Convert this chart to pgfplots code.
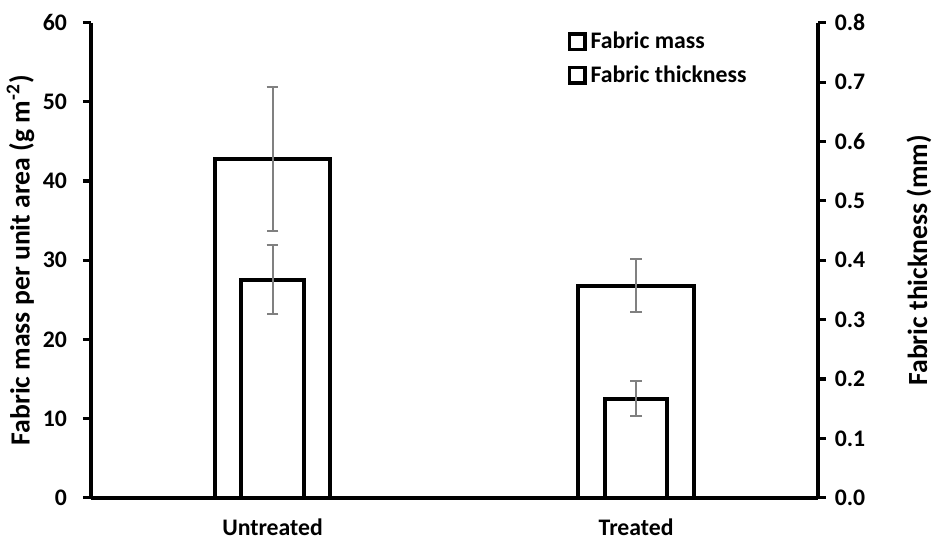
\documentclass[border=0pt]{standalone}
\usepackage{fontspec}
\setmainfont{Carlito}
\usepackage{pgfplots}
\pgfplotsset{compat=1.18}

% mean values and standard deviations
\pgfplotstableread{
x  mass  masserr
0  42.8  9.1
1  26.8  3.3
}\masstable
\pgfplotstableread{
x  thick  thickerr
0  0.367  0.058
1  0.167  0.029
}\thicktable

\pgfplotsset{
  common/.style={
    scale only axis,
    width=367.5pt, height=240pt,
    xmin=-0.5, xmax=1.5,
    ymin=0,
    font=\bfseries\fontsize{12}{14}\selectfont,
    /pgf/number format/assume math mode=true,
    ticklabel style={font=\bfseries\fontsize{12}{14}\selectfont},
    label style={font=\bfseries\fontsize{14}{16}\selectfont},
    axis line style={line width=2pt, -},
    major tick style={line width=1.6pt, black},
    major tick length=4pt,
    tick align=outside,
    ybar, bar shift=0pt,
    error bars/error bar style={black!50, line width=1pt},
    error bars/error mark options={rotate=90, mark size=3pt, line width=1pt, black!50},
  },
  barbox/.style={draw=black, fill=white, line width=2pt},
}

\begin{document}
\begin{tikzpicture}
\begin{axis}[
  common,
  name=main,
  at={(0,0)},
  ymax=60, ytick={0,10,...,60},
  axis y line*=left, axis x line*=bottom,
  xtick={0,1}, xticklabels={Untreated,Treated},
  x tick style={draw=none},
  xticklabel style={yshift=-3pt},
  yticklabel style={xshift=-4.5pt},
  bar width=58.5pt,
  ylabel={Fabric mass per unit area (g m\textsuperscript{-2})},
  ylabel style={at={(axis description cs:-0.0966,0.5)}, anchor=center, rotate=0},
]
\addplot+[barbox, error bars/.cd, y dir=both, y explicit]
  table[x=x, y=mass, y error=masserr] {\masstable};
\end{axis}
\begin{axis}[
  common,
  at={(0,0)},
  ymax=0.8, ytick={0,0.1,...,0.8},
  axis y line*=right,
  axis x line=none,
  yticklabel style={xshift=1pt, /pgf/number format/.cd, fixed, fixed zerofill, precision=1},
  bar width=31.5pt,
  ylabel={Fabric thickness (mm)},
  ylabel style={at={(axis description cs:1.139,0.5)}, anchor=center},
  legend style={at={(0.647,0.998)}, anchor=north west, draw=none, fill=none,
    font=\bfseries\fontsize{12}{14}\selectfont, row sep=3pt,
    /tikz/every even column/.append style={column sep=2pt}},
  legend cell align=left,
  legend image code/.code={\draw[black, fill=white, line width=1.8pt] (0pt,-3.9pt) rectangle (7.8pt,3.9pt);},
]
\addlegendimage{barbox}
\addlegendentry{Fabric mass}
\addplot+[barbox, error bars/.cd, y dir=both, y explicit]
  table[x=x, y=thick, y error=thickerr] {\thicktable};
\addlegendentry{Fabric thickness}
\end{axis}
% white margin round the figure
\path ([shift={(-45pt,11.5pt)}]main.north west) ([shift={(56.5pt,-21pt)}]main.south east);
\end{tikzpicture}
\end{document}
